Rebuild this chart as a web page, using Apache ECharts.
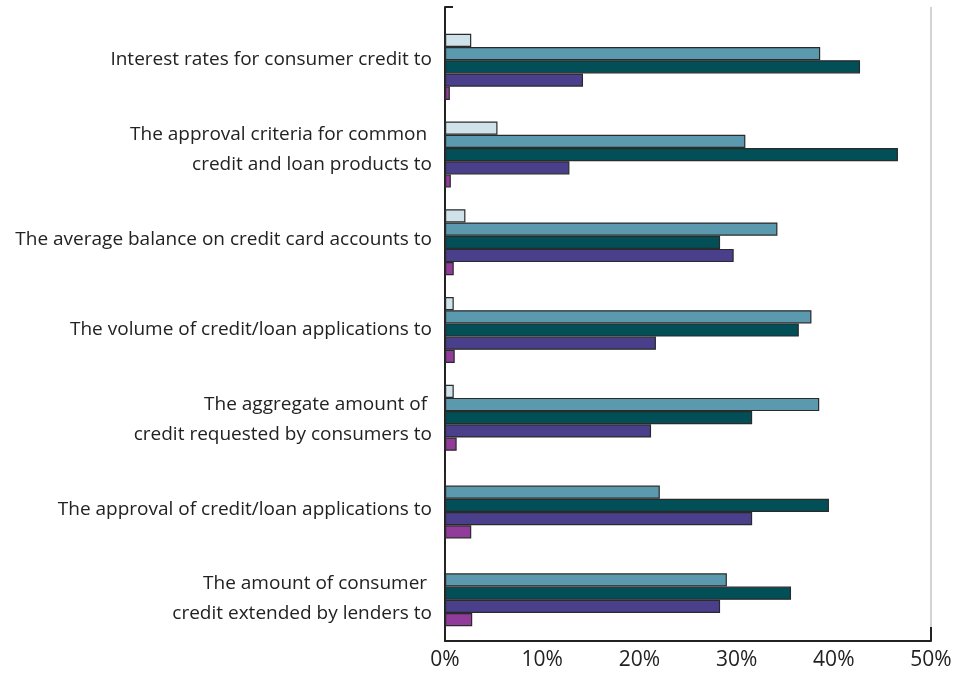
<!DOCTYPE html>
<html>
<head>
<meta charset="utf-8">
<script src="https://cdn.jsdelivr.net/npm/echarts@6/dist/echarts.min.js"></script>
<style>
  html, body { margin: 0; padding: 0; background: #ffffff; }
  #chart { width: 955px; height: 685px; }
</style>
</head>
<body>
<div id="chart"></div>
<script>
// Survey items, listed top to bottom
const categories = [
  'Interest rates for consumer credit to',
  'The approval criteria for common \ncredit and loan products to',
  'The average balance on credit card accounts to',
  'The volume of credit/loan applications to',
  'The aggregate amount of \ncredit requested by consumers to',
  'The approval of credit/loan applications to',
  'The amount of consumer \ncredit extended by lenders to'
];

// Share of responses (%) for each of the five answer groups
const answerA = [2.7, 5.4, 2.1, 0.9, 0.9, 0, 0];
const answerB = [38.6, 30.9, 34.2, 37.7, 38.5, 22.1, 29.0];
const answerC = [42.7, 46.6, 28.3, 36.4, 31.6, 39.5, 35.6];
const answerD = [14.2, 12.8, 29.7, 21.7, 21.2, 31.6, 28.3];
const answerE = [0.5, 0.6, 0.9, 1.0, 1.2, 2.7, 2.8];

// Percentage axis
const axisMin = 0;
const axisMax = 50;
const axisStep = 10;

const seriesList = [
  { name: 'A', data: answerA, color: '#cfe1e9' },
  { name: 'B', data: answerB, color: '#5b9aae' },
  { name: 'C', data: answerC, color: '#024f58' },
  { name: 'D', data: answerD, color: '#4a3f8b' },
  { name: 'E', data: answerE, color: '#913b9a' }
];

const FONT = '"Open Sans", "Noto Sans", sans-serif';
const INK = '#222222';

const chart = echarts.init(document.getElementById('chart'), null, { renderer: 'canvas' });

chart.setOption({
  backgroundColor: '#ffffff',
  animation: false,
  grid: [
    // frame: axes and gridlines
    { left: 445, right: 24, top: 7, bottom: 44 },
    // bars
    { left: 445, right: 24, top: 23, bottom: 48 },
    // category labels
    { left: 445, right: 24, top: 15, bottom: 41 }
  ],
  xAxis: [
    {
      gridIndex: 0,
      type: 'value',
      min: axisMin,
      max: axisMax,
      interval: axisStep,
      axisLine: { show: true, lineStyle: { color: INK, width: 2 } },
      axisTick: { show: true, inside: true, length: 14, customValues: [axisMax], lineStyle: { color: INK, width: 2 } },
      splitLine: { show: true, lineStyle: { color: '#d3d3d3', width: 2 } },
      axisLabel: {
        formatter: '{value}%',
        fontFamily: FONT,
        fontSize: 21,
        color: INK,
        margin: 9
      }
    },
    { gridIndex: 1, type: 'value', min: axisMin, max: axisMax, show: false },
    { gridIndex: 2, type: 'value', min: axisMin, max: axisMax, show: false }
  ],
  yAxis: [
    {
      gridIndex: 0,
      type: 'category',
      inverse: true,
      data: categories,
      axisLine: { show: true, lineStyle: { color: INK, width: 2 } },
      axisTick: {
        show: true,
        inside: true,
        length: 8,
        interval: function (index) { return index === 0; },
        lineStyle: { color: INK, width: 2 }
      },
      splitLine: { show: false },
      axisLabel: { show: false }
    },
    {
      gridIndex: 1,
      type: 'category',
      inverse: true,
      data: categories,
      show: false
    },
    {
      gridIndex: 2,
      type: 'category',
      inverse: true,
      data: categories,
      axisLine: { show: false },
      axisTick: { show: false },
      splitLine: { show: false },
      axisLabel: {
        fontFamily: FONT,
        fontSize: 19,
        color: INK,
        lineHeight: 30,
        margin: 13,
        align: 'right'
      }
    }
  ],
  series: seriesList.map(function (s) {
    return {
      name: s.name,
      type: 'bar',
      xAxisIndex: 1,
      yAxisIndex: 1,
      data: s.data,
      barGap: '0%',
      barCategoryGap: '24.7%',
      itemStyle: { color: s.color, borderColor: '#2a2a2a', borderWidth: 1.2 },
      silent: true
    };
  })
});
</script>
</body>
</html>
